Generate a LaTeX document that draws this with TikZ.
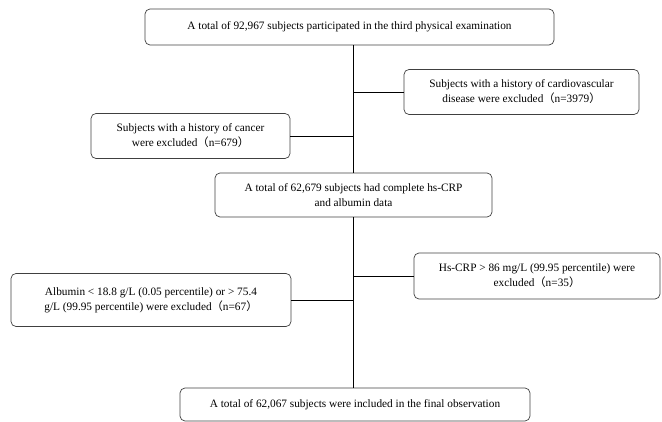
\documentclass[tikz,border=0pt]{standalone}
\usepackage{fontspec}
\setmainfont{Liberation Serif}
\newfontfamily\cjk{Noto Sans CJK SC}
\usetikzlibrary{positioning}
\newcommand{\lpar}{{\cjk （}}
\newcommand{\rpar}{{\cjk ）}}

\begin{document}
\begin{tikzpicture}[x=1pt,y=-1pt,
    boxnode/.style={draw=black!75,line width=0.7pt,rounded corners=5pt,
        align=center,inner sep=2pt,font=\fontsize{11.3}{15}\selectfont},
    link/.style={draw=black,line width=0.7pt}]
    \useasboundingbox (0,0) rectangle (662,422);
    \node[boxnode,minimum width=409pt,minimum height=36pt] (top) at (349.5,27)
        {A total of 92,967 subjects participated in the third physical examination};
    \node[boxnode,minimum width=235pt,minimum height=45pt] (cvd) at (521.5,92)
        {Subjects with a history of cardiovascular\\disease were excluded\lpar n=3979\rpar};
    \node[boxnode,minimum width=199pt,minimum height=45pt] (cancer) at (190.5,136)
        {Subjects with a history of cancer\\were excluded\lpar n=679\rpar};
    \node[boxnode,minimum width=277pt,minimum height=44pt] (complete) at (353.5,195)
        {A total of 62,679 subjects had complete hs-CRP\\and albumin data};
    %%
    \node[boxnode,minimum width=246pt,minimum height=46pt] (crp) at (537,276)
        {Hs-CRP > 86 mg/L (99.95 percentile) were\\excluded\lpar n=35\rpar};
    \node[boxnode,minimum width=280pt,minimum height=53pt] (alb) at (151,300)
        {Albumin < 18.8 g/L (0.05 percentile) or > 75.4\\g/L (99.95 percentile) were excluded\lpar n=67\rpar};
    \node[boxnode,minimum width=350pt,minimum height=33pt] (final) at (355,404.5)
        {A total of 62,067 subjects were included in the final observation};
    %% trunk and side branches
    \draw[link] (top.south -| complete.north) -- (complete.north);
    \draw[link] (cvd.west) -- (cvd.west -| complete.north);
    \draw[link] (cancer.east) -- (cancer.east -| complete.north);
    \draw[link] (complete.south) -- (final.north -| complete.south);
    \draw[link] (crp.west) -- (crp.west -| complete.south);
    \draw[link] (alb.east) -- (alb.east -| complete.south);
\end{tikzpicture}
\end{document}
